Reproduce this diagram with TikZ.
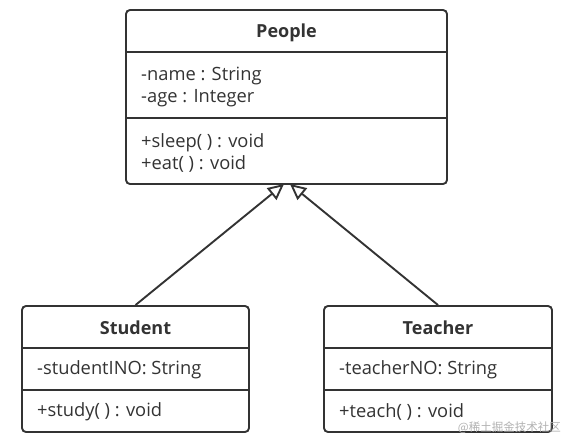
\documentclass[tikz,border=0pt]{standalone}
\usepackage{fontspec}
\setmainfont{Open Sans}
\newfontfamily\cjk{Noto Sans CJK SC}
\usetikzlibrary{arrows.meta}
\definecolor{ink}{HTML}{333333}
\tikzset{
  umlbox/.style={draw=ink, line width=1.9pt, rounded corners=4pt, fill=white, inner sep=0pt},
  divider/.style={draw=ink, line width=1.9pt},
  title/.style={font=\fontsize{18}{22}\selectfont\bfseries, text=ink, anchor=center},
  member/.style={font=\fontsize{18.3}{22}\selectfont, text=ink, anchor=west, align=left, inner sep=0pt},
  inherit/.style={draw=ink, line width=1.9pt, -{Triangle[open, length=16pt, width=15pt, line width=1.9pt]}},
}
\begin{document}
\begin{tikzpicture}[x=1pt, y=-1pt]
\useasboundingbox (0,0) rectangle (565,437);
% People
\node[umlbox, minimum width=321pt, minimum height=174pt] (people) at (286.5,97) {};
\draw[divider] (126,52) -- (447,52);
\draw[divider] (126,118) -- (447,118);
\node[title] (ptitle) at (286.5,33) {People};
\node[member] (pattr) at (141,87) {-name : String\\-age : Integer};
\node[member] (pops) at (141,153) {+sleep( ) : void\\+eat( ) : void};
% Student
\node[umlbox, minimum width=227pt, minimum height=126pt] (student) at (135.5,369) {};
\draw[divider] (22,348) -- (249,348);
\draw[divider] (22,390) -- (249,390);
\node[title] (stitle) at (135.5,328) {Student};
\node[member] (sattr) at (37,370) {-studentINO: String};
\node[member] (sops) at (37,412) {+study( ) : void};
% Teacher
\node[umlbox, minimum width=228pt, minimum height=126pt] (teacher) at (438,369) {};
\draw[divider] (324,348) -- (552,348);
\draw[divider] (324,390) -- (552,390);
\node[title] (ttitle) at (438,328) {Teacher};
\node[member] (tattr) at (339,370) {-teacherNO: String};
\node[member] (tops) at (339,412) {+teach( ) : void};
% inheritance
\coordinate (pl) at (284,184);
\coordinate (pr) at (290,184);
\draw[inherit] (student.north) -- (pl);
\draw[inherit] (teacher.north) -- (pr);
% watermark
\node[font=\cjk\fontsize{11.5}{13}\selectfont, text=black!30, anchor=east, inner sep=0pt] (wm) at (561,428) {@稀土掘金技术社区};
\end{tikzpicture}
\end{document}
